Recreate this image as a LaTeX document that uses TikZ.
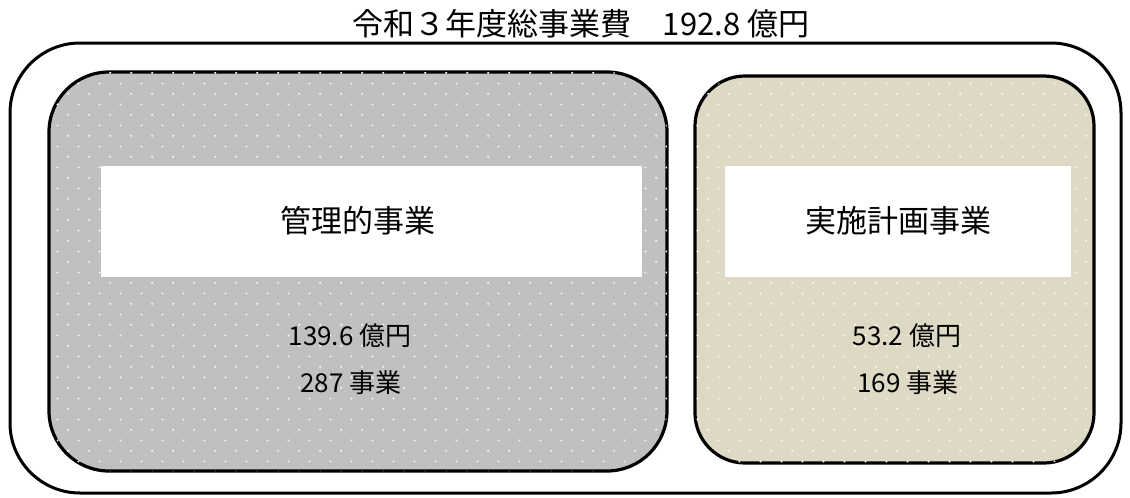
\documentclass[tikz,border=0pt]{standalone}
\usepackage{fontspec}
\setmainfont{Noto Sans CJK JP}
\usetikzlibrary{patterns.meta}
\definecolor{boxgray}{RGB}{192,192,192}
\definecolor{boxtan}{RGB}{221,217,196}
\definecolor{dotgray}{RGB}{245,245,245}
\definecolor{dottan}{RGB}{250,249,242}
\tikzdeclarepattern{
  name=graydots,
  type=colored,
  bottom left={(0pt,0pt)},
  top right={(21.333pt,21.333pt)},
  tile size={(21.333pt,21.333pt)},
  code={
    \fill[dotgray] (5.333pt,5.333pt) circle[radius=1.2pt];
    \fill[dotgray] (16pt,16pt) circle[radius=1.2pt];
  }
}
\tikzdeclarepattern{
  name=tandots,
  type=colored,
  bottom left={(0pt,0pt)},
  top right={(21.333pt,21.333pt)},
  tile size={(21.333pt,21.333pt)},
  code={
    \fill[dottan] (5.333pt,5.333pt) circle[radius=1.2pt];
    \fill[dottan] (16pt,16pt) circle[radius=1.2pt];
  }
}
\tikzset{
  outerbox/.style={draw=black,line width=3pt,rounded corners=70pt,minimum width=1111pt,minimum height=450pt,inner sep=0pt},
  groupbox/.style={draw=black,line width=3.2pt,inner sep=0pt},
  labelbox/.style={fill=white,draw=none,inner sep=0pt,minimum height=111pt},
  titletext/.style={font=\fontsize{31pt}{36pt}\selectfont,inner sep=0pt},
  labeltext/.style={font=\fontsize{31pt}{36pt}\selectfont,inner sep=0pt},
  amounttext/.style={font=\fontsize{26pt}{30pt}\selectfont,inner sep=0pt}
}
\begin{document}
\begin{tikzpicture}[x=1pt,y=-1pt]
\useasboundingbox (0,0) rectangle (1130,498);
\node[outerbox] (outer) at (565.5,268) {};
\node[titletext] (title) at (581,24) {令和３年度総事業費　192.8 億円};
% left group
\node[groupbox,fill=boxgray,postaction={pattern=graydots},rounded corners=60pt,minimum width=618pt,minimum height=399pt] (left) at (358,271.5) {};
\node[labelbox,minimum width=541pt] (leftlabel) at (371.5,221.5) {};
\node[labeltext] (lefttext) at (358,221) {管理的事業};
\node[amounttext] (leftamount) at (350,336) {139.6 億円};
\node[amounttext] (leftcount) at (351,383) {287 事業};
% right group
\node[groupbox,fill=boxtan,postaction={pattern=tandots},rounded corners=50pt,minimum width=399pt,minimum height=387pt] (right) at (894.5,269.5) {};
\node[labelbox,minimum width=346pt] (rightlabel) at (898,221.5) {};
\node[labeltext] (righttext) at (898,221) {実施計画事業};
\node[amounttext] (rightamount) at (907,336) {53.2 億円};
\node[amounttext] (rightcount) at (908,383) {169 事業};
\end{tikzpicture}
\end{document}
